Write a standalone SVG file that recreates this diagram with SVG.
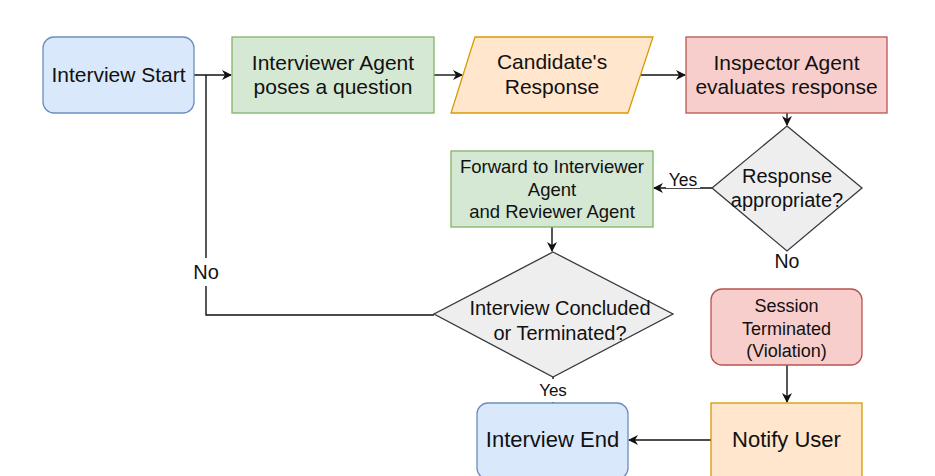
<svg xmlns="http://www.w3.org/2000/svg" width="935" height="476" viewBox="0 0 935 476">
<style>
.t{font-family:"Liberation Sans",Arial,sans-serif;fill:#111;text-anchor:middle}
.blue{fill:#dae8fc;stroke:#6c8ebf;stroke-width:1.3}
.green{fill:#d5e8d4;stroke:#82b366;stroke-width:1.3}
.orange{fill:#ffe6cc;stroke:#d79b00;stroke-width:1.3}
.red{fill:#f8cecc;stroke:#b85450;stroke-width:1.3}
.gray{fill:#eeeeee;stroke:#36393d;stroke-width:1.3}
.c{fill:none;stroke:#111;stroke-width:1.4}
.lbl{fill:#ffffff}
</style>
<defs>
<marker id="arr" viewBox="0 0 10 10" refX="9" refY="5" markerWidth="10" markerHeight="10" markerUnits="userSpaceOnUse" orient="auto">
<path d="M0,0 L10,5 L0,10 L3,5 Z" fill="#111"/>
</marker>
</defs>
<rect width="935" height="476" fill="#ffffff"/>
<g id="connectors">
<path class="c" d="M194,75 H231" marker-end="url(#arr)"/>
<path class="c" d="M434,75 H462" marker-end="url(#arr)"/>
<path class="c" d="M640,75 H685" marker-end="url(#arr)"/>
<path class="c" d="M787,113 V125" marker-end="url(#arr)"/>
<path class="c" d="M712,188 H654" marker-end="url(#arr)"/>
<path class="c" d="M552,227 V251" marker-end="url(#arr)"/>
<path class="c" d="M434,315 H206 V75"/>
<path class="c" d="M553,377 V403"/>
<path class="c" d="M787,365 V402" marker-end="url(#arr)"/>
<path class="c" d="M711,440 H629" marker-end="url(#arr)"/>
<rect class="lbl" x="666" y="170" width="34" height="18"/>
<text class="t" x="683" y="186" font-size="17.5">Yes</text>
<rect class="lbl" x="190" y="258" width="32" height="28"/>
<text class="t" x="206" y="279" font-size="20">No</text>
<text class="t" x="787" y="268" font-size="19.5">No</text>
<rect class="lbl" x="535" y="379" width="36" height="23"/>
<text class="t" x="553" y="396" font-size="17">Yes</text>
</g>
<g id="interview-start">
<rect class="blue" x="43" y="37" width="151" height="76" rx="11"/>
<text class="t" x="118.5" y="82" font-size="21">Interview Start</text>
</g>
<g id="interviewer-agent">
<rect class="green" x="232" y="37" width="202" height="76"/>
<text class="t" x="333" y="69.5" font-size="21">Interviewer Agent</text>
<text class="t" x="333" y="93.5" font-size="21">poses a question</text>
</g>
<g id="candidate-response">
<polygon class="orange" points="475,37 653,37 628,113 451,113"/>
<text class="t" x="552" y="68.5" font-size="21">Candidate's</text>
<text class="t" x="552" y="94" font-size="21">Response</text>
</g>
<g id="inspector-agent">
<rect class="red" x="686" y="37" width="201" height="76"/>
<text class="t" x="786.5" y="69.5" font-size="21">Inspector Agent</text>
<text class="t" x="786.5" y="94" font-size="21">evaluates response</text>
</g>
<g id="response-appropriate">
<polygon class="gray" points="787,126 862,188 787,251 712,188"/>
<text class="t" x="787" y="183" font-size="20">Response</text>
<text class="t" x="787" y="207" font-size="20">appropriate?</text>
</g>
<g id="forward">
<rect class="green" x="451" y="151" width="202" height="76"/>
<text class="t" x="552" y="173" font-size="18.5">Forward to Interviewer</text>
<text class="t" x="552" y="195.5" font-size="18.5">Agent</text>
<text class="t" x="552" y="218" font-size="18.5">and Reviewer Agent</text>
</g>
<g id="interview-concluded">
<polygon class="gray" points="553,252 673,314 553,377 434,314"/>
<text class="t" x="560" y="315" font-size="20">Interview Concluded</text>
<text class="t" x="560" y="340" font-size="20">or Terminated?</text>
</g>
<g id="session-terminated">
<rect class="red" x="711" y="289" width="151" height="76" rx="11"/>
<text class="t" x="786.5" y="312" font-size="18">Session</text>
<text class="t" x="786.5" y="334.5" font-size="18">Terminated</text>
<text class="t" x="786.5" y="357" font-size="18">(Violation)</text>
</g>
<g id="interview-end">
<rect class="blue" x="477" y="403" width="151" height="76" rx="11"/>
<text class="t" x="552.5" y="447" font-size="22">Interview End</text>
</g>
<g id="notify-user">
<rect class="orange" x="711" y="403" width="151" height="76"/>
<text class="t" x="786.5" y="447" font-size="22">Notify User</text>
</g>
</svg>
